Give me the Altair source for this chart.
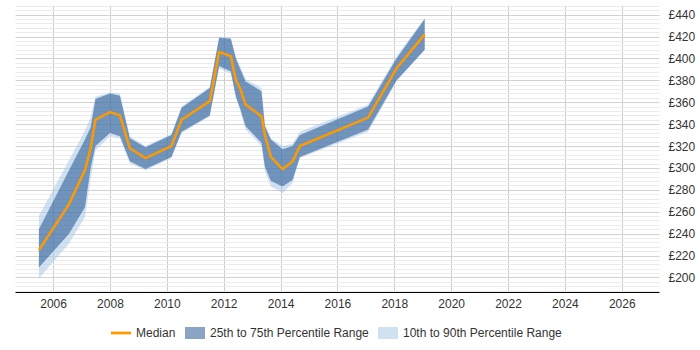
import altair as alt
import pandas as pd

# Monthly-ish snapshots (decimal years) with percentile bands, in GBP
years = [2005.50, 2006.56, 2007.12, 2007.32, 2007.49, 2008.00, 2008.35, 2008.70,
         2009.25, 2010.16, 2010.52, 2011.51, 2011.84, 2012.25, 2012.43, 2012.57,
         2012.77, 2013.33, 2013.45, 2013.66, 2014.07, 2014.42, 2014.68, 2017.08,
         2018.08, 2019.07]
p10 = [199, 231, 255, 290, 316, 329, 327, 304, 298, 309, 332, 347, 391, 386, 364, 353,
       335, 320, 297, 283, 277, 286, 309, 333, 379, 408]
p25 = [209, 240, 264, 300, 320, 332, 329, 306, 299, 310, 333, 348, 393, 388, 365, 355,
       338, 323, 301, 288, 283, 289, 310, 335, 380, 408]
median = [225, 267, 298, 318, 344, 351, 348, 318, 309, 320, 344, 361, 406, 402, 380, 373,
          358, 347, 330, 310, 299, 306, 320, 346, 391, 422]
p75 = [244, 298, 326, 337, 363, 368, 366, 327, 319, 330, 355, 373, 419, 418, 400, 391,
       379, 370, 338, 326, 317, 320, 330, 356, 400, 436]
p90 = [256, 307, 334, 346, 365, 369, 368, 329, 320, 331, 356, 374, 420, 419, 401, 393,
       381, 373, 340, 327, 320, 322, 333, 358, 402, 437]

year_ticks = [2006, 2008, 2010, 2012, 2014, 2016, 2018, 2020, 2022, 2024, 2026]
series = ["Median", "25th to 75th Percentile Range", "10th to 90th Percentile Range"]
# Translucent fills so the grid shows through the bands
series_colors = ["#ff9900", "rgba(0,57,127,0.46)", "rgba(169,200,230,0.55)"]

df = pd.DataFrame({"year": years, "p10": p10, "p25": p25, "median": median,
                   "p75": p75, "p90": p90})

FONT = "Liberation Sans"
TEXT = "#333333"

x_enc = alt.X(
    "year:Q",
    scale=alt.Scale(domain=[2004.66, 2027.31], nice=False, zero=False),
    axis=alt.Axis(values=year_ticks, format="d", title=None, ticks=False,
                  labelPadding=6, domainColor="#000000", domainWidth=1,
                  gridColor="#cccccc", labelFontSize=12, labelColor=TEXT,
                  labelFont=FONT),
)

y_scale = alt.Scale(domain=[186.7, 448.8], nice=False, zero=False)
y_axis = alt.Axis(
    orient="right", title=None, ticks=False, domain=False,
    values=list(range(188, 449, 4)),
    labelExpr="datum.value % 20 === 0 ? '£' + datum.value : ''",
    labelOverlap=False, labelPadding=9, labelFontSize=12, labelColor=TEXT,
    labelFont=FONT,
    gridColor={"condition": {"test": "datum.value % 20 === 0", "value": "#d2d2d2"},
               "value": "#ebebeb"},
)

legend = alt.Legend(
    title=None, orient="none", legendX=96, legendY=318, direction="horizontal",
    symbolSize=400, labelFontSize=12, labelColor=TEXT, labelFont=FONT,
    columnPadding=9, labelOffset=5, padding=0, symbolOpacity=1,
    symbolStrokeWidth=0,
    symbolType=alt.expr(
        "datum.value === 'Median' ? 'M-1,-0.14H1V0.14H-1Z' : 'M-1,-0.6H1V0.6H-1Z'"
    ),
)

color_enc = alt.Color(
    "series:N",
    scale=alt.Scale(domain=series, range=series_colors),
    legend=legend,
)

base = alt.Chart(df)

outer = base.transform_calculate(series=f"'{series[2]}'").mark_area(opacity=1).encode(
    x=x_enc,
    y=alt.Y("p10:Q", scale=y_scale, axis=y_axis),
    y2="p90:Q",
    color=color_enc,
)

inner = base.transform_calculate(series=f"'{series[1]}'").mark_area(opacity=1).encode(
    x=x_enc,
    y=alt.Y("p25:Q", scale=y_scale, axis=y_axis),
    y2="p75:Q",
    color=color_enc,
)

line = base.transform_calculate(series=f"'{series[0]}'").mark_line(strokeWidth=2.5).encode(
    x=x_enc,
    y=alt.Y("median:Q", scale=y_scale, axis=y_axis),
    color=color_enc,
)

chart = (
    alt.layer(outer, inner, line)
    .properties(
        width=644, height=287,
        autosize=alt.AutoSizeParams(type="none"),
        padding={"left": 15, "top": 5, "right": 41, "bottom": 58},
        background="#ffffff",
    )
    .configure_view(strokeWidth=0)
)

chart.save("out.html", embed_options={"renderer": "svg", "actions": False})
